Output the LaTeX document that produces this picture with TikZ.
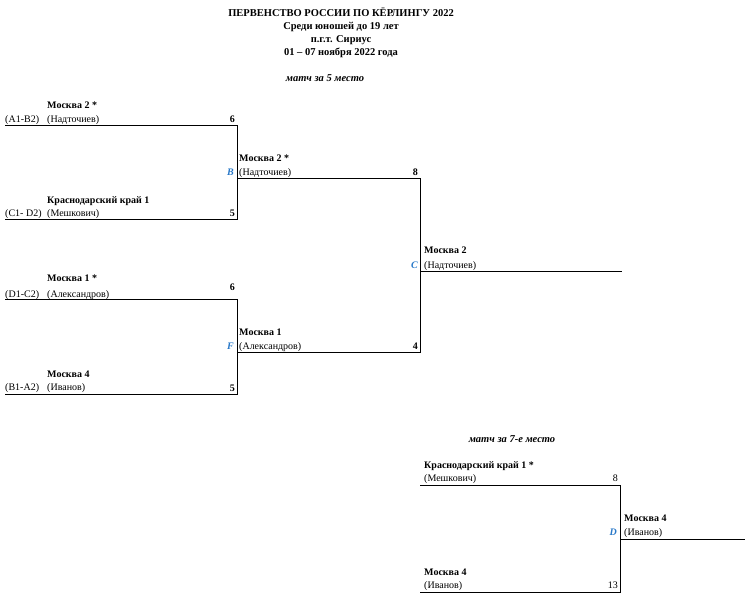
\documentclass[tikz,border=0pt]{standalone}
\usepackage{fontspec}
\setmainfont{Liberation Serif}
\begin{document}
\begin{tikzpicture}[x=1pt,y=-1pt,
 t/.style={font=\fontsize{10}{11}\selectfont,inner sep=0pt,anchor=base west},
 b/.style={t,font=\fontsize{10}{11}\selectfont\bfseries},
 s/.style={t,font=\fontsize{10}{11}\selectfont\bfseries,anchor=base east},
 l/.style={t,font=\fontsize{10}{11}\selectfont\bfseries\itshape,text={rgb,255:red,40;green,120;blue,200},anchor=base east},
 h/.style={font=\fontsize{10.5}{12}\selectfont\bfseries,inner sep=0pt,anchor=base},
 m/.style={font=\fontsize{10.5}{12}\selectfont\bfseries\itshape,inner sep=0pt,anchor=base},
 ln/.style={line width=0.8pt}]
\useasboundingbox (0,0) rectangle (750,598);
\node[h] (h1) at (341,16) {ПЕРВЕНСТВО РОССИИ  ПО КЁРЛИНГУ 2022};
\node[h] (h2) at (341,29) {Среди юношей до 19 лет};
\node[h] (h3) at (341,42) {п.г.т. Сириус};
\node[h] (h4) at (341,55) {01  – 07 ноября 2022 года};
\node[m] (m5) at (325,81) {матч за 5 место};
\node[m] (m7) at (512,442) {матч за 7-е место};
\coordinate (a0) at (5,125); \coordinate (a1) at (237,125);
\coordinate (k0) at (5,219); \coordinate (k1) at (237,219);
\coordinate (bB) at (237,178); \coordinate (bB2) at (420,178);
\coordinate (d0) at (5,299); \coordinate (d1) at (237,299);
\coordinate (e0) at (5,394); \coordinate (e1) at (237,394);
\coordinate (fF) at (237,352); \coordinate (fF2) at (420,352);
\coordinate (cC) at (420,271); \coordinate (cC2) at (622,271);
\coordinate (g0) at (420,485); \coordinate (g1) at (620,485);
\coordinate (i0) at (420,592); \coordinate (i1) at (620,592);
\coordinate (dD) at (620,539); \coordinate (dD2) at (745,539);
\draw[ln] (a0) -- (a1) -- (k1) -- (k0);
\draw[ln] (bB) -- (bB2) -- (fF2) -- (fF);
\draw[ln] (d0) -- (d1) -- (e1) -- (e0);
\draw[ln] (cC) -- (cC2);
\draw[ln] (g0) -- (g1) -- (i1) -- (i0);
\draw[ln] (dD) -- (dD2);
\node[b] (n1) at (47,108) {Москва 2 *};
\node[t] (p1) at (5,122) {(A1-B2)}; \node[t] (q1) at (47,122) {(Надточиев)}; \node[s] (s1) at (235,122) {6};
\node[b] (n2) at (47,203) {Краснодарский край 1};
\node[t] (p2) at (5,216) {(C1- D2)}; \node[t] (q2) at (47,216) {(Мешкович)}; \node[s] (s2) at (235,216) {5};
\node[b] (n3) at (47,281) {Москва 1 *};
\node[t] (p3) at (5,297) {(D1-C2)}; \node[t] (q3) at (47,297) {(Александров)}; \node[s] (s3) at (235,290) {6};
\node[b] (n4) at (47,377) {Москва 4};
\node[t] (p4) at (5,390) {(B1-A2)}; \node[t] (q4) at (47,390) {(Иванов)}; \node[s] (s4) at (235,391) {5};
\node[b] (n5) at (239,161) {Москва 2 *};
\node[t] (q5) at (239,175) {(Надточиев)}; \node[s] (s5) at (418,175) {8}; \node[l] (L1) at (234,175) {B};
\node[b] (n6) at (239,335) {Москва 1};
\node[t] (q6) at (239,349) {(Александров)}; \node[s] (s6) at (418,349) {4}; \node[l] (L2) at (234,349) {F};
\node[b] (n7) at (424,253) {Москва 2};
\node[t] (q7) at (424,268) {(Надточиев)}; \node[l] (L3) at (418,268) {C};
\node[b] (n8) at (424,468) {Краснодарский край 1 *};
\node[t] (q8) at (424,481) {(Мешкович)}; \node[t,anchor=base east] (s8) at (618,481) {8};
\node[b] (n9) at (424,575) {Москва 4};
\node[t] (q9) at (424,588) {(Иванов)}; \node[t,anchor=base east] (s9) at (618,588) {13};
\node[b] (n10) at (624,521) {Москва 4};
\node[t] (q10) at (624,535) {(Иванов)}; \node[l] (L4) at (617,535) {D};
\end{tikzpicture}
\end{document}
